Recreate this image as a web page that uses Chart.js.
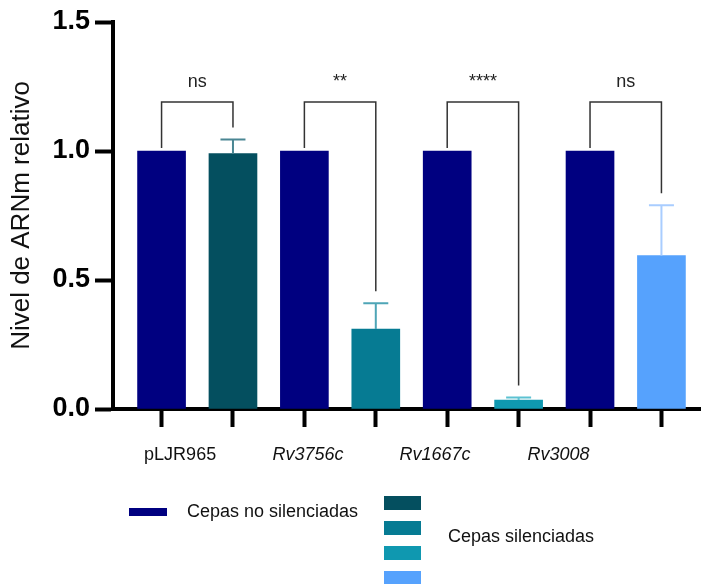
<!DOCTYPE html>
<html>
<head>
<meta charset="utf-8">
<script src="https://cdn.jsdelivr.net/npm/chart.js"></script>
<style>
  body { margin: 0; background: #fff; }
  canvas { display: block; }
</style>
</head>
<body>
<canvas id="arnmChart" width="702" height="584"></canvas>
<script>
// Datos
const groups = ['pLJR965', 'Rv3756c', 'Rv1667c', 'Rv3008'];
const controlValues = [1.0, 1.0, 1.0, 1.0];
const silencedValues = [0.99, 0.31, 0.035, 0.595];
const silencedErrors = [0.055, 0.10, 0.01, 0.195];
const significance = ['ns', '**', '****', 'ns'];
const yTicks = [0, 0.5, 1.0, 1.5];

// Colores
const controlColor = '#000080';
const silencedColors = ['#044F5F', '#067B93', '#0F98B0', '#56A2FD'];
const errorColors = ['#4A8693', '#4EA5B6', '#5CC2D2', '#A9CDFF'];

// Posiciones en el eje (control en impares, silenciadas en pares)
const controlX = groups.map((g, i) => 2 * i + 1);
const silencedX = groups.map((g, i) => 2 * i + 2);
const xMin = 0.32, xMax = 8.54;
const labelPositions = [1.26, 3.05, 4.83, 6.56];
const bracketLevel = 1.19;

const FONT = "'Liberation Sans', Arial, sans-serif";
Chart.defaults.font.family = FONT;
Chart.defaults.color = '#000';

// Barras de error (solo cepas silenciadas)
const errorBars = {
    id: 'errorBars',
    afterDatasetsDraw(chart) {
        const ctx = chart.ctx;
        const y = chart.scales.y;
        const meta = chart.getDatasetMeta(1);
        ctx.save();
        ctx.lineWidth = 2;
        meta.data.forEach((bar, i) => {
            const top = y.getPixelForValue(silencedValues[i] + silencedErrors[i]);
            const base = y.getPixelForValue(silencedValues[i]);
            ctx.strokeStyle = errorColors[i];
            ctx.beginPath();
            ctx.moveTo(bar.x, base);
            ctx.lineTo(bar.x, top);
            ctx.moveTo(bar.x - 12.5, top);
            ctx.lineTo(bar.x + 12.5, top);
            ctx.stroke();
        });
        ctx.restore();
    }
};

// Corchetes de significancia
const brackets = {
    id: 'brackets',
    afterDatasetsDraw(chart) {
        const ctx = chart.ctx;
        const y = chart.scales.y;
        const left = chart.getDatasetMeta(0).data;
        const right = chart.getDatasetMeta(1).data;
        const yTop = y.getPixelForValue(bracketLevel);
        ctx.save();
        ctx.strokeStyle = '#333';
        ctx.lineWidth = 1.5;
        groups.forEach((g, i) => {
            const x1 = left[i].x, x2 = right[i].x;
            const y1 = y.getPixelForValue(controlValues[i]) - 3;
            const y2 = y.getPixelForValue(silencedValues[i] + silencedErrors[i]) - 12;
            ctx.beginPath();
            ctx.moveTo(x1, y1);
            ctx.lineTo(x1, yTop);
            ctx.lineTo(x2, yTop);
            ctx.lineTo(x2, y2);
            ctx.stroke();
            ctx.fillStyle = '#222';
            ctx.font = '18px ' + FONT;
            ctx.textAlign = 'center';
            ctx.textBaseline = 'alphabetic';
            ctx.fillText(significance[i], (x1 + x2) / 2, yTop - 15);
        });
        ctx.restore();
    }
};

// Leyenda
const customLegend = {
    id: 'customLegend',
    afterDraw(chart) {
        const ctx = chart.ctx;
        ctx.save();
        ctx.font = '18px ' + FONT;
        ctx.textBaseline = 'middle';
        ctx.textAlign = 'left';
        ctx.fillStyle = controlColor;
        ctx.fillRect(129, 508, 38, 8);
        ctx.fillStyle = '#111';
        ctx.fillText(chart.data.datasets[0].label, 187, 512);
        silencedColors.forEach((c, k) => {
            ctx.fillStyle = c;
            ctx.fillRect(384, 496 + k * 25, 37, 14);
        });
        ctx.fillStyle = '#111';
        ctx.fillText(chart.data.datasets[1].label, 448, 537);
        ctx.restore();
    }
};

const ctx = document.getElementById('arnmChart').getContext('2d');
new Chart(ctx, {
    type: 'bar',
    data: {
        datasets: [{
            label: 'Cepas no silenciadas',
            data: controlValues.map((v, i) => ({ x: controlX[i], y: v })),
            backgroundColor: controlColor,
            barThickness: 48,
            grouped: false
        }, {
            label: 'Cepas silenciadas',
            data: silencedValues.map((v, i) => ({ x: silencedX[i], y: v })),
            backgroundColor: silencedColors,
            barThickness: 48,
            grouped: false
        }]
    },
    options: {
        responsive: false,
        animation: false,
        layout: { padding: { left: 0, right: 2, top: 22, bottom: 115 } },
        plugins: {
            legend: { display: false },
            tooltip: { enabled: false }
        },
        scales: {
            x: {
                type: 'linear',
                min: xMin,
                max: xMax,
                offset: false,
                weight: 0,
                afterBuildTicks: (scale) => {
                    scale.ticks = controlX.concat(silencedX).sort((a, b) => a - b).map(v => ({ value: v }));
                },
                afterFit: (scale) => { scale.height = 20; },
                ticks: { autoSkip: false, callback: () => '' },
                grid: {
                    offset: false,
                    drawOnChartArea: false,
                    tickLength: 18,
                    tickWidth: 4,
                    tickColor: '#000'
                },
                border: { display: true, color: '#000', width: 4 }
            },
            xLabels: {
                type: 'linear',
                position: 'bottom',
                min: xMin,
                max: xMax,
                offset: false,
                weight: 1,
                afterBuildTicks: (scale) => {
                    scale.ticks = labelPositions.map(v => ({ value: v }));
                },
                afterFit: (scale) => { scale.height = 40; },
                ticks: {
                    autoSkip: false,
                    maxRotation: 0,
                    padding: 15,
                    color: '#111',
                    font: (c) => ({ family: FONT, size: 18, style: c.index === 0 ? 'normal' : 'italic' }),
                    callback: (v, i) => groups[i]
                },
                grid: { display: false, drawTicks: false, tickLength: 0 },
                border: { display: false }
            },
            y: {
                min: 0,
                max: 1.5,
                afterBuildTicks: (scale) => {
                    scale.ticks = yTicks.map(v => ({ value: v }));
                },
                afterFit: (scale) => { scale.width = 113; },
                ticks: {
                    padding: 5,
                    color: '#000',
                    font: { family: FONT, size: 27, weight: 'bold' },
                    callback: (v) => Number(v).toFixed(1)
                },
                grid: {
                    drawOnChartArea: false,
                    tickLength: 18,
                    tickWidth: 4,
                    tickColor: '#000'
                },
                border: { display: true, color: '#000', width: 4 },
                title: {
                    display: true,
                    text: 'Nivel de ARNm relativo',
                    color: '#111',
                    font: { family: FONT, size: 26 },
                    padding: { top: 6, bottom: 0 }
                }
            }
        }
    },
    plugins: [errorBars, brackets, customLegend]
});
</script>
</body>
</html>
